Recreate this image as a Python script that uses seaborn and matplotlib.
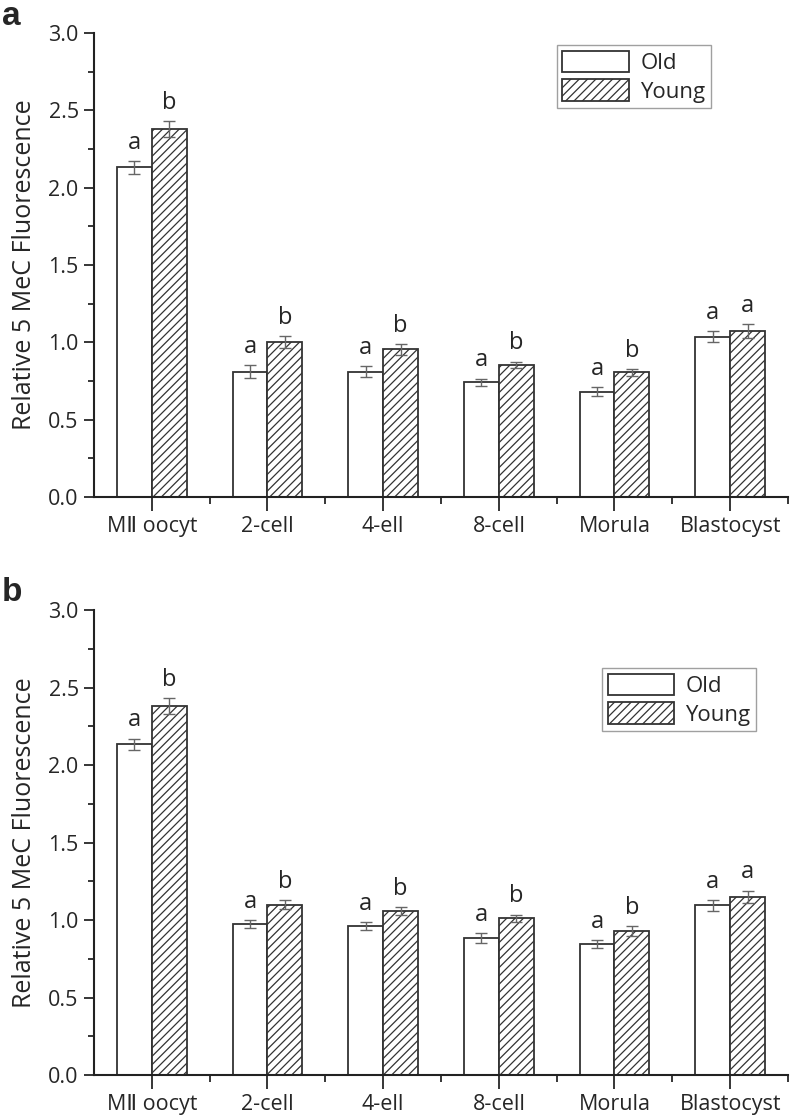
import pandas as pd
import numpy as np
import seaborn as sns
import matplotlib.pyplot as plt
from matplotlib.ticker import MultipleLocator

stages = ["M\u2161 oocyt", "2-cell", "4-ell", "8-cell", "Morula", "Blastocyst"]
groups = ["Old", "Young"]

# panel a
old_a = [2.13, 0.81, 0.81, 0.74, 0.68, 1.035]
old_a_err = [0.04, 0.04, 0.035, 0.025, 0.03, 0.035]
young_a = [2.38, 1.00, 0.955, 0.855, 0.805, 1.07]
young_a_err = [0.05, 0.04, 0.035, 0.02, 0.02, 0.045]
letters_old_a = ["a", "a", "a", "a", "a", "a"]
letters_young_a = ["b", "b", "b", "b", "b", "a"]

# panel b
old_b = [2.135, 0.975, 0.96, 0.885, 0.845, 1.095]
old_b_err = [0.035, 0.025, 0.025, 0.03, 0.025, 0.035]
young_b = [2.38, 1.10, 1.06, 1.01, 0.93, 1.15]
young_b_err = [0.05, 0.03, 0.025, 0.025, 0.03, 0.04]
letters_old_b = ["a", "a", "a", "a", "a", "a"]
letters_young_b = ["b", "b", "b", "b", "b", "a"]

sns.set_style("ticks")
plt.rcParams["font.family"] = ["Open Sans", "DejaVu Sans"]
plt.rcParams["hatch.linewidth"] = 0.9
plt.rcParams["hatch.color"] = "#444444"

fig = plt.figure(figsize=(7.93, 11.16), dpi=100)
ax_a = fig.add_axes([0.1185, 0.5547, 0.8752, 0.4158])
ax_b = fig.add_axes([0.1185, 0.0367, 0.8752, 0.4167])


def draw_panel(ax, old, old_err, young, young_err, let_old, let_young, leg_xy):
    df = pd.DataFrame({
        "Stage": stages * 2,
        "Group": ["Old"] * 6 + ["Young"] * 6,
        "Value": old + young,
    })
    sns.barplot(data=df, x="Stage", y="Value", hue="Group", hue_order=groups,
                order=stages, palette=["white", "white"], width=0.6,
                edgecolor="#333333", linewidth=1.3, errorbar=None,
                legend=False, ax=ax, saturation=1)
    bars = list(ax.containers[:2])
    for bar in bars[1]:
        bar.set_hatch("////")
    errs = [old_err, young_err]
    lets = [let_old, let_young]
    vals = [old, young]
    for k, cont in enumerate(bars):
        for i, bar in enumerate(cont):
            xc = bar.get_x() + bar.get_width() / 2
            ax.errorbar(xc, vals[k][i], yerr=errs[k][i], color="#666666",
                        capsize=4, elinewidth=1, capthick=1, fmt="none")
            ax.text(xc, vals[k][i] + errs[k][i] + 0.04, lets[k][i],
                    ha="center", va="bottom", fontsize=17)
    ax.set_xlim(-0.5, 5.5)
    ax.set_ylim(0, 3.0)
    ax.yaxis.set_minor_locator(MultipleLocator(0.25))
    ax.set_yticks(np.arange(0, 3.01, 0.5))
    ax.set_yticklabels([f"{v:.1f}" for v in np.arange(0, 3.01, 0.5)])
    ax.set_xticks(range(6))
    ax.set_xticks(np.arange(0.5, 5.6, 1.0), minor=True)
    ax.set_xticklabels(stages)
    ax.tick_params(axis="y", which="major", length=7, width=1.3, labelsize=15.5,
                   direction="out", pad=4)
    ax.tick_params(axis="y", which="minor", length=4, width=1.3, direction="out")
    ax.tick_params(axis="x", which="major", length=10, width=1.3, labelsize=15.5,
                   direction="out", pad=4)
    ax.tick_params(axis="x", which="minor", length=5, width=1.3, direction="out")
    sns.despine(ax=ax)
    for s in ["left", "bottom"]:
        ax.spines[s].set_linewidth(1.5)
        ax.spines[s].set_color("#222222")
    ax.set_xlabel("")
    ax.set_ylabel("Relative 5 MeC Fluorescence", fontsize=18, labelpad=8)
    ax.legend(handles=[bars[0][0], bars[1][0]], labels=groups,
              loc="upper left", bbox_to_anchor=leg_xy, fontsize=16,
              frameon=True, fancybox=False, edgecolor="#888888",
              handlelength=3.0, handleheight=1.1, borderpad=0.25,
              labelspacing=0.25, handletextpad=0.5, borderaxespad=0)


draw_panel(ax_a, old_a, old_a_err, young_a, young_a_err,
           letters_old_a, letters_young_a, (0.667, 0.974))
draw_panel(ax_b, old_b, old_b_err, young_b, young_b_err,
           letters_old_b, letters_young_b, (0.732, 0.875))

fig.text(0.002, 0.999, "a", fontsize=24, fontweight="bold", ha="left", va="top",
         family="Liberation Sans")
fig.text(0.002, 0.483, "b", fontsize=24, fontweight="bold", ha="left", va="top",
         family="Liberation Sans")

fig.savefig("out.png", dpi=100)
